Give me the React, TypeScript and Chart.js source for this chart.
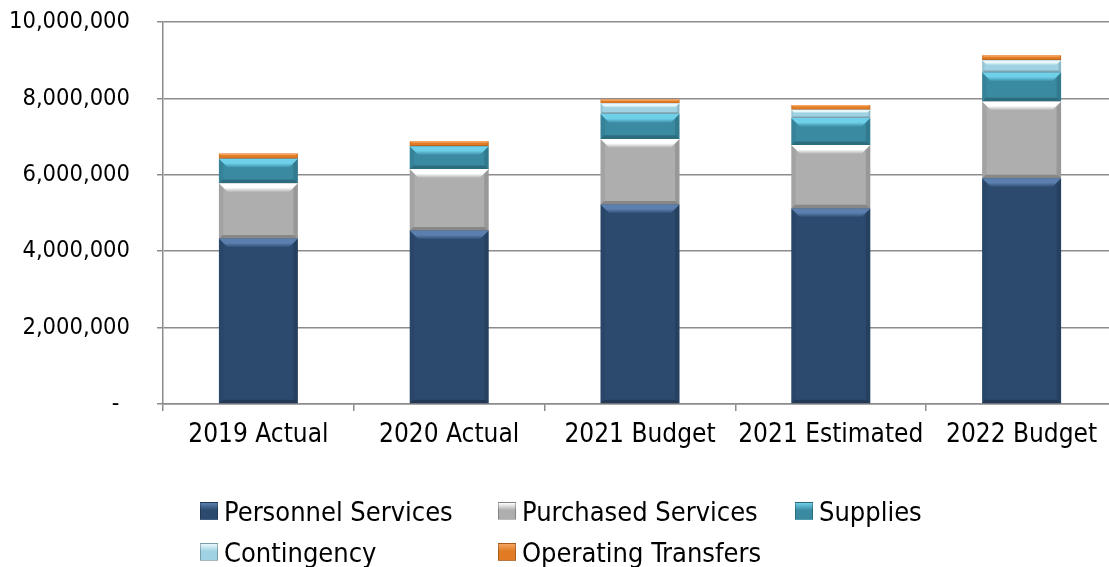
import React, { useEffect, useRef } from "react";
import { Chart, registerables } from "chart.js";

Chart.register(...registerables);

const categories = ["2019 Actual", "2020 Actual", "2021 Budget", "2021 Estimated", "2022 Budget"];
const personnelServices = [4330000, 4540000, 5220000, 5120000, 5910000];
const purchasedServices = [1450000, 1610000, 1720000, 1660000, 2010000];
const supplies = [640000, 600000, 650000, 710000, 760000];
const contingency = [0, 0, 280000, 210000, 320000];
const operatingTransfers = [140000, 130000, 100000, 130000, 130000];

const seriesNames = ["Personnel Services", "Purchased Services", "Supplies", "Contingency", "Operating Transfers"];
const seriesColors = ["#2c4a6e", "#aeaeae", "#3a8ba2", "#9fd2e2", "#e07b24"];
const seriesHighlights = ["#5b7fae", "#ffffff", "#6fd0ea", "#e8f7fb", "#f5a560"];

const yMin = 0;
const yMax = 10000000;
const yStep = 2000000;

const FONT = "'DejaVu Sans Condensed', 'DejaVu Sans', sans-serif";
const GRID = "#8c8c8c";

const bevelPlugin = {
  id: "bevel",
  afterDatasetsDraw(chart: any) {
    const ctx = chart.ctx;
    chart.data.datasets.forEach((ds: any, i: number) => {
      const meta = chart.getDatasetMeta(i);
      meta.data.forEach((el: any) => {
        const p = el.getProps(["x", "y", "base", "width"], true);
        const left = p.x - p.width / 2;
        const right = p.x + p.width / 2;
        const top = Math.min(p.y, p.base);
        const bottom = Math.max(p.y, p.base);
        const h = bottom - top;
        if (h < 1) return;
        const b = Math.min(9, h / 2.4);
        ctx.save();
        // top bevel
        const g = ctx.createLinearGradient(0, top, 0, top + b);
        g.addColorStop(0, seriesHighlights[i]);
        g.addColorStop(0.5, seriesHighlights[i]);
        g.addColorStop(1, seriesColors[i]);
        ctx.beginPath();
        ctx.moveTo(left, top);
        ctx.lineTo(right, top);
        ctx.lineTo(right - b, top + b);
        ctx.lineTo(left + b, top + b);
        ctx.closePath();
        ctx.fillStyle = g;
        ctx.fill();
        // right side darker
        ctx.beginPath();
        ctx.moveTo(right, top);
        ctx.lineTo(right, bottom);
        ctx.lineTo(right - b * 0.5, bottom - b * 0.5);
        ctx.lineTo(right - b * 0.5, top + b * 0.5);
        ctx.closePath();
        ctx.fillStyle = "rgba(0,0,0,0.12)";
        ctx.fill();
        // left side darker
        ctx.beginPath();
        ctx.moveTo(left, top);
        ctx.lineTo(left, bottom);
        ctx.lineTo(left + b * 0.5, bottom - b * 0.5);
        ctx.lineTo(left + b * 0.5, top + b * 0.5);
        ctx.closePath();
        ctx.fillStyle = "rgba(0,0,0,0.06)";
        ctx.fill();
        // bottom darker
        ctx.beginPath();
        ctx.moveTo(left, bottom);
        ctx.lineTo(right, bottom);
        ctx.lineTo(right - b * 0.4, bottom - b * 0.4);
        ctx.lineTo(left + b * 0.4, bottom - b * 0.4);
        ctx.closePath();
        ctx.fillStyle = "rgba(0,0,0,0.22)";
        ctx.fill();
        ctx.restore();
      });
    });
  },
};

export default function App() {
  const canvasRef = useRef<HTMLCanvasElement | null>(null);

  useEffect(() => {
    document.body.style.margin = "0";
    const canvas = canvasRef.current;
    if (!canvas) return;
    const seriesValues = [personnelServices, purchasedServices, supplies, contingency, operatingTransfers];
    const chart = new Chart(canvas, {
      type: "bar",
      data: {
        labels: categories,
        datasets: seriesNames.map((name, i) => ({
          label: name,
          data: seriesValues[i],
          backgroundColor: seriesColors[i],
          borderWidth: 0,
          categoryPercentage: 1,
          barPercentage: 0.414,
        })),
      },
      options: {
        animation: false,
        responsive: true,
        maintainAspectRatio: false,
        layout: { padding: { top: 22, right: 8, bottom: 0, left: 0 } },
        plugins: {
          legend: { display: false },
          tooltip: { enabled: false },
        },
        scales: {
          x: {
            stacked: true,
            offset: true,
            grid: {
              offset: true,
              drawOnChartArea: false,
              drawTicks: true,
              tickLength: 7,
              color: GRID,
              lineWidth: 1.5,
            },
            border: { display: true, color: GRID, width: 1.5 },
            ticks: {
              color: "#000",
              font: { family: FONT, size: 26 },
              padding: 9,
              maxRotation: 0,
              autoSkip: false,
            },
            afterFit: (scale: any) => {
              scale.height = 163;
            },
          },
          y: {
            stacked: true,
            min: yMin,
            max: yMax,
            ticks: {
              stepSize: yStep,
              color: "#000",
              font: { family: FONT, size: 23.5 },
              padding: 27,
              callback: (v: any) => (Number(v) === 0 ? "-\u2002" : Number(v).toLocaleString("en-US")),
            },
            grid: {
              color: GRID,
              lineWidth: 1.5,
              drawTicks: true,
              tickLength: 6,
            },
            border: { display: true, color: GRID, width: 1.5 },
            afterFit: (scale: any) => {
              scale.width = 163;
              scale.paddingTop = 0;
              scale.paddingBottom = 0;
            },
          },
        },
      },
      plugins: [bevelPlugin],
    });
    return () => chart.destroy();
  }, []);

  const colX = [200, 498, 795];
  const rowY = [511, 552];

  return (
    <div
      style={{
        position: "fixed",
        left: 0,
        top: 0,
        width: 1109,
        height: 567,
        overflow: "hidden",
        background: "#fff",
      }}
    >
      <div style={{ position: "absolute", left: 0, top: 0, width: 1125, height: 567 }}>
        <canvas ref={canvasRef} />
      </div>
      {seriesNames.map((name, i) => {
        const col = i % 3;
        const row = Math.floor(i / 3);
        return (
          <div
            key={name}
            style={{
              position: "absolute",
              left: colX[col],
              top: rowY[row] - 20,
              height: 40,
              display: "flex",
              alignItems: "center",
              fontFamily: FONT,
              fontSize: 27,
              color: "#000",
              whiteSpace: "nowrap",
            }}
          >
            <span
              style={{
                display: "inline-block",
                width: 18,
                height: 18,
                marginRight: 6,
                boxSizing: "border-box",
                border: "1px solid rgba(0,0,0,0.25)",
                background: `linear-gradient(to bottom, ${seriesHighlights[i]} 0%, ${seriesColors[i]} 45%, ${seriesColors[i]} 100%)`,
              }}
            />
            <span>{name}</span>
          </div>
        );
      })}
    </div>
  );
}
